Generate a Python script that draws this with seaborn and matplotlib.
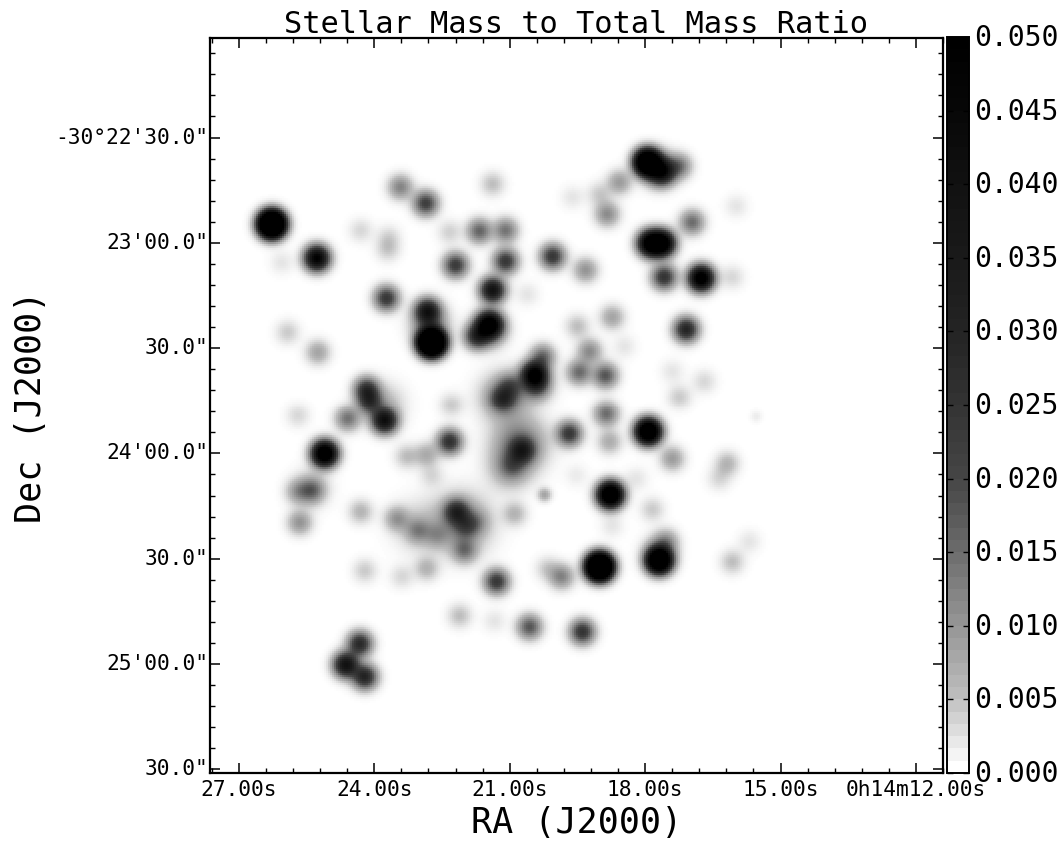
import numpy as np
import matplotlib
matplotlib.use("Agg")
import matplotlib.pyplot as plt
import seaborn as sns
from matplotlib.cm import ScalarMappable
from matplotlib.colors import LinearSegmentedColormap, Normalize
from matplotlib.transforms import ScaledTranslation

# sources: RA seconds past 0h14m, Dec arcsec past -30d22', peak, width in arcsec
blob_ra = [26.27, 25.27, 26.05, 23.42, 22.86, 21.38, 24.30, 23.70, 23.68, 22.33, 21.67, 21.09,
           22.20, 21.09, 21.38, 23.73, 22.82, 22.73, 21.45, 21.73, 25.92, 25.25,
           17.95, 17.62, 17.24, 18.57, 18.84, 19.01, 19.61, 15.98, 17.88, 17.62, 16.96,
           17.58, 16.76, 16.07, 20.05, 19.32, 20.61, 17.09, 18.73, 19.50, 18.46, 19.23,
           19.46, 18.88, 20.45, 20.27, 20.38, 17.40, 16.69, 17.24, 18.86, 19.68, 17.93,
           18.79, 17.40, 16.18, 16.36, 20.72, 20.94, 21.16, 18.77, 17.84,
           18.19, 19.52, 18.73, 19.01, 17.69, 17.53, 19.85, 20.16, 21.29, 16.07, 15.69,
           20.56, 19.39, 21.34,
           24.17, 24.10, 23.77, 24.59, 25.69, 25.10, 22.29, 21.00, 22.33, 22.84, 23.28,
           22.73, 25.38, 25.69, 25.65, 24.30, 23.50, 23.04, 22.18, 21.96, 21.73, 22.00,
           22.62, 20.89, 24.21, 23.39, 22.84, 22.11, 24.32, 24.63, 24.21]
blob_dec = [54.6, 64.3, 65.5, 44.1, 48.7, 43.2, 56.4, 61.8, 58.3, 56.9, 56.6, 56.4,
            66.3, 65.2, 73.4, 75.7, 79.4, 88.3, 83.1, 86.6, 85.4, 91.1,
            37.0, 39.8, 38.1, 42.7, 51.8, 46.1, 47.0, 49.5, 60.1, 60.1, 54.1,
            69.7, 70.0, 69.7, 63.8, 67.7, 74.6, 84.6, 81.1, 83.7, 89.4, 90.8,
            96.8, 97.7, 97.4, 92.3, 100.8, 96.5, 99.4, 103.9, 108.8, 114.5, 113.9,
            116.8, 121.6, 123.0, 127.3, 119.3, 123.6, 104.5, 131.9, 136.1,
            127.3, 126.4, 140.7, 152.4, 150.6, 145.2, 155.2, 152.9, 156.6, 151.0, 145.2,
            169.5, 170.9, 167.8,
            101.7, 105.4, 110.8, 110.2, 109.3, 120.2, 106.2, 100.8, 116.8, 120.5, 121.0,
            126.4, 130.7, 131.0, 139.8, 136.7, 138.7, 142.1, 136.7, 140.7, 139.5, 147.8,
            143.5, 137.3, 153.5, 155.2, 152.9, 166.3, 174.3, 180.3, 183.7]
blob_peak = [0.15, 0.05, 0.002, 0.012, 0.022, 0.005, 0.003, 0.004, 0.003, 0.0035, 0.016, 0.014,
             0.023, 0.024, 0.04, 0.024, 0.035, 0.16, 0.05, 0.025, 0.004, 0.008,
             0.10, 0.03, 0.013, 0.009, 0.011, 0.004, 0.002, 0.002, 0.06, 0.06, 0.015,
             0.025, 0.06, 0.003, 0.024, 0.01, 0.002, 0.03, 0.008, 0.005, 0.002, 0.011,
             0.015, 0.018, 0.05, 0.015, 0.012, 0.002, 0.003, 0.004, 0.015, 0.024, 0.08,
             0.007, 0.009, 0.006, 0.003, 0.024, 0.008, 0.018, 0.08, 0.004,
             0.002, 0.0015, 0.002, 0.15, 0.09, 0.009, 0.012, 0.004, 0.024, 0.005, 0.002,
             0.018, 0.025, 0.002,
             0.025, 0.02, 0.04, 0.014, 0.003, 0.07, 0.004, 0.012, 0.026, 0.007, 0.005,
             0.003, 0.012, 0.008, 0.01, 0.006, 0.009, 0.009, 0.024, 0.012, 0.005, 0.012,
             0.006, 0.006, 0.004, 0.003, 0.006, 0.005, 0.028, 0.04, 0.03]
blob_width = [2.3] * len(blob_ra)

# diffuse halos round the crowded sources, and the two small sharp ones
extra_ra = [20.78, 21.00, 21.11, 20.45, 22.07, 17.69, 23.00, 25.40, 23.80, 21.45, 22.77, 17.69, 15.54, 20.23]
extra_dec = [117.3, 124.4, 103.9, 100.0, 140.0, 39.0, 141.0, 130.0, 106.0, 84.5, 83.0, 148.0, 109.6, 131.9]
extra_peak = [0.014, 0.008, 0.012, 0.008, 0.011, 0.02, 0.004, 0.005, 0.006, 0.02, 0.012, 0.008, 0.0015, 0.008]
extra_width = [5.0, 4.0, 4.5, 3.5, 5.5, 3.0, 5.0, 3.5, 4.0, 3.0, 3.5, 3.0, 1.2, 1.3]

# grey level of the colour bar at each tick
level_values = [0.000, 0.005, 0.010, 0.015, 0.020, 0.025, 0.030, 0.035, 0.040, 0.045, 0.050]
level_greys = [1.0, 0.74, 0.58, 0.42, 0.27, 0.20, 0.14, 0.10, 0.07, 0.03, 0.0]

ra_ticks = [27, 24, 21, 18, 15, 12]
ra_labels = ["27.00s", "24.00s", "21.00s", "18.00s", "15.00s", "0h14m12.00s"]
dec_ticks = [30, 60, 90, 120, 150, 180, 210]
dec_labels = ["-30°22'30.0\"", "23'00.0\"", "30.0\"", "24'00.0\"", "30.0\"", "25'00.0\"", "30.0\""]
bar_ticks = level_values

ra_left, ra_right = 27.64, 11.425
dec_top, dec_bottom = 1.65, 211.05
nx, ny = 366, 368

plt.rcParams["font.family"] = ["DejaVu Sans Mono"]

# sum up the sources on the map grid
ra_grid = ra_left + (np.arange(nx) + 0.5) / nx * (ra_right - ra_left)
dec_grid = dec_top + (np.arange(ny) + 0.5) / ny * (dec_bottom - dec_top)
xx, yy = np.meshgrid((ra_grid - 21) * 15 * np.cos(np.radians(30.4)), dec_grid)
image = np.zeros((ny, nx))
for ra, dec, peak, width in zip(blob_ra + extra_ra, blob_dec + extra_dec,
                                blob_peak + extra_peak, blob_width + extra_width):
    x0 = (ra - 21) * 15 * np.cos(np.radians(30.4))
    image += peak * np.exp(-((xx - x0) ** 2 + (yy - dec) ** 2) / (2 * width ** 2))

stops = [(v / level_values[-1], str(g)) for v, g in zip(level_values, level_greys)]
# smooth on the map, banded on the colour bar
map_cmap = LinearSegmentedColormap.from_list("map", stops, N=512)
bar_cmap = LinearSegmentedColormap.from_list("bar", stops, N=60)


def ra_pos(ra):
    return (ra_left - np.asarray(ra, dtype=float)) / (ra_left - ra_right) * nx


def dec_pos(dec):
    return (np.asarray(dec, dtype=float) - dec_top) / (dec_bottom - dec_top) * ny


fig = plt.figure(figsize=(10.64, 8.54), dpi=100)
ax = fig.add_axes([210 / 1064, 80 / 854, 733 / 1064, 735 / 854])
cax = fig.add_axes([947 / 1064, 80 / 854, 22 / 1064, 736 / 854])

sns.heatmap(image, ax=ax, cbar=False, cmap=map_cmap, vmin=0, vmax=0.05,
            xticklabels=False, yticklabels=False)

ax.set_xticks(ra_pos(ra_ticks))
ax.set_xticklabels(ra_labels, fontsize=15.3, rotation=0)
ax.set_yticks(dec_pos(dec_ticks))
ax.set_yticklabels(dec_labels, fontsize=15.3, rotation=0)
ax.set_xticks(ra_pos(np.arange(11.4, 27.7, 0.6)), minor=True)
ax.set_yticks(dec_pos(np.arange(6, 211, 6)), minor=True)
ax.tick_params(which="major", direction="in", length=7, width=1.1, top=True, right=True, pad=1.5)
ax.tick_params(which="minor", direction="in", length=3.5, width=1.0, top=True, right=True)
ax.tick_params(axis="x", which="major", pad=4)
for spine in ax.spines.values():
    spine.set_visible(True)
    spine.set_linewidth(1.6)

ax.set_title("Stellar Mass to Total Mass Ratio", fontsize=21.9, pad=2)
ax.set_xlabel("RA (J2000)", fontsize=25.2, labelpad=5)
ax.set_ylabel("Dec (J2000)", fontsize=25.2, labelpad=5)

cbar = fig.colorbar(ScalarMappable(Normalize(0, 0.05), bar_cmap), cax=cax, ticks=bar_ticks)
cbar.ax.set_yticklabels(["%.3f" % v for v in bar_ticks], fontsize=20.2)
cbar.ax.tick_params(direction="in", length=4, width=1.0, left=True, right=True, pad=4)
cbar.outline.set_linewidth(1.4)

# the labels sit a little above their ticks in the reference
up = ScaledTranslation(0, 3 / 100, fig.dpi_scale_trans)
for label in cbar.ax.get_yticklabels() + ax.get_yticklabels():
    label.set_transform(label.get_transform() + up)

fig.savefig("out.png", dpi=100)
